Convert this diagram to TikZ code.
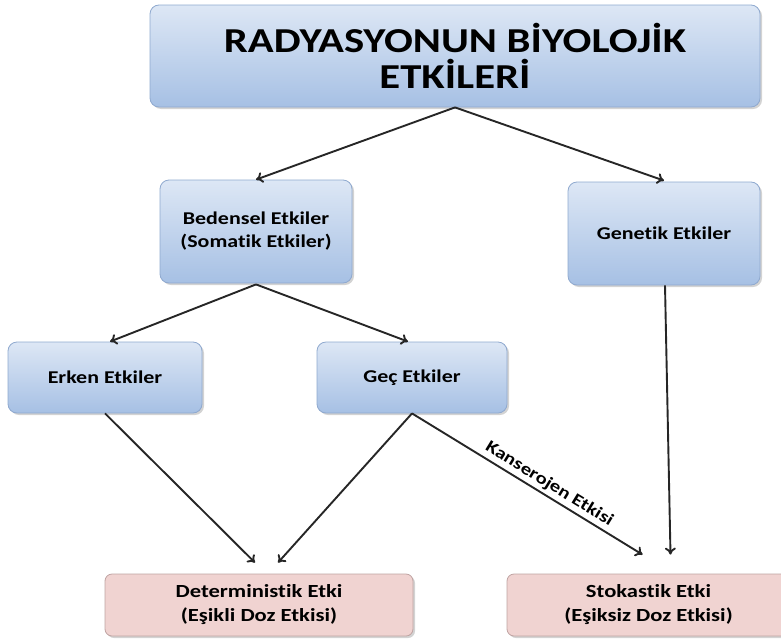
\documentclass[tikz,border=0pt]{standalone}
\usepackage{fontspec}
\setmainfont[FakeStretch=1.22,Ligatures=NoCommon]{Carlito}
\usepackage{xcolor}
\usetikzlibrary{arrows.meta,shadows}

\definecolor{boxtop}{HTML}{DDE7F5}
\definecolor{boxbot}{HTML}{A6C0E4}
\definecolor{boxline}{HTML}{8FA9CF}
\definecolor{pinkfill}{HTML}{F0D3D1}
\definecolor{pinkline}{HTML}{BFA3A2}

\begin{document}
\begin{tikzpicture}[x=1pt,y=-1pt,
  every node/.style={font=\bfseries},
  bluebox/.style={draw=boxline, line width=0.8pt, rounded corners=9pt,
    top color=boxtop, bottom color=boxbot, align=center, inner sep=0pt,
    drop shadow={shadow xshift=2pt, shadow yshift=-2pt, opacity=0.35}},
  pinkbox/.style={draw=pinkline, line width=0.8pt, rounded corners=7pt,
    fill=pinkfill, align=center, inner sep=0pt,
    drop shadow={shadow xshift=2pt, shadow yshift=-2pt, opacity=0.35}},
  link/.style={draw=black!85, line width=1.9pt, -{To[length=7pt,width=11pt]}}]
\useasboundingbox (0,0) rectangle (781,640);

\node[bluebox, minimum width=610, minimum height=102,
  font=\bfseries\fontsize{35}{36}\selectfont] (radyasyon) at (455,56)
  {RADYASYONUN BİYOLOJİK\\ETKİLERİ};
\node[bluebox, minimum width=192, minimum height=103,
  font=\bfseries\fontsize{18}{23}\selectfont] (bedensel) at (256,231.5)
  {Bedensel Etkiler\\(Somatik Etkiler)};
\node[bluebox, minimum width=192, minimum height=103,
  font=\bfseries\fontsize{18}{23}\selectfont] (genetik) at (664,233.5)
  {Genetik Etkiler};
\node[bluebox, minimum width=194, minimum height=71,
  font=\bfseries\fontsize{18}{23}\selectfont] (erken) at (105,377.5)
  {Erken Etkiler};
\node[bluebox, minimum width=190, minimum height=71,
  font=\bfseries\fontsize{18}{23}\selectfont] (gec) at (412,377.5)
  {Geç Etkiler};
\node[pinkbox, minimum width=308, minimum height=62,
  font=\bfseries\fontsize{18.5}{24}\selectfont] (determ) at (259,605)
  {Deterministik Etki\\(Eşikli Doz Etkisi)};
\node[pinkbox, minimum width=283, minimum height=62,
  font=\bfseries\fontsize{18.5}{24}\selectfont] (stokastik) at (648.5,605)
  {Stokastik Etki\\(Eşiksiz Doz Etkisi)};

\draw[link] (radyasyon.south) -- (bedensel.north);
\draw[link] (radyasyon.south) -- ([yshift=1pt]genetik.north);
\draw[link] ([yshift=-1pt]bedensel.south) -- ([xshift=5pt]erken.north);
\draw[link] ([yshift=-1pt]bedensel.south) -- ([xshift=-4pt]gec.north);
\draw[link] (erken.south) -- ([xshift=-4pt,yshift=11pt]determ.north);
\draw[link] (gec.south) -- ([xshift=19pt,yshift=11pt]determ.north);
\draw[link] (gec.south) -- node[sloped, above, pos=0.57, inner sep=3pt,
  font=\bfseries\fontsize{17}{18}\selectfont] {Kanserojen Etkisi}
  ([xshift=-6pt,yshift=19pt]stokastik.north);
\draw[link] ([xshift=1pt]genetik.south) -- ([xshift=22pt,yshift=19pt]stokastik.north);
\end{tikzpicture}
\end{document}
